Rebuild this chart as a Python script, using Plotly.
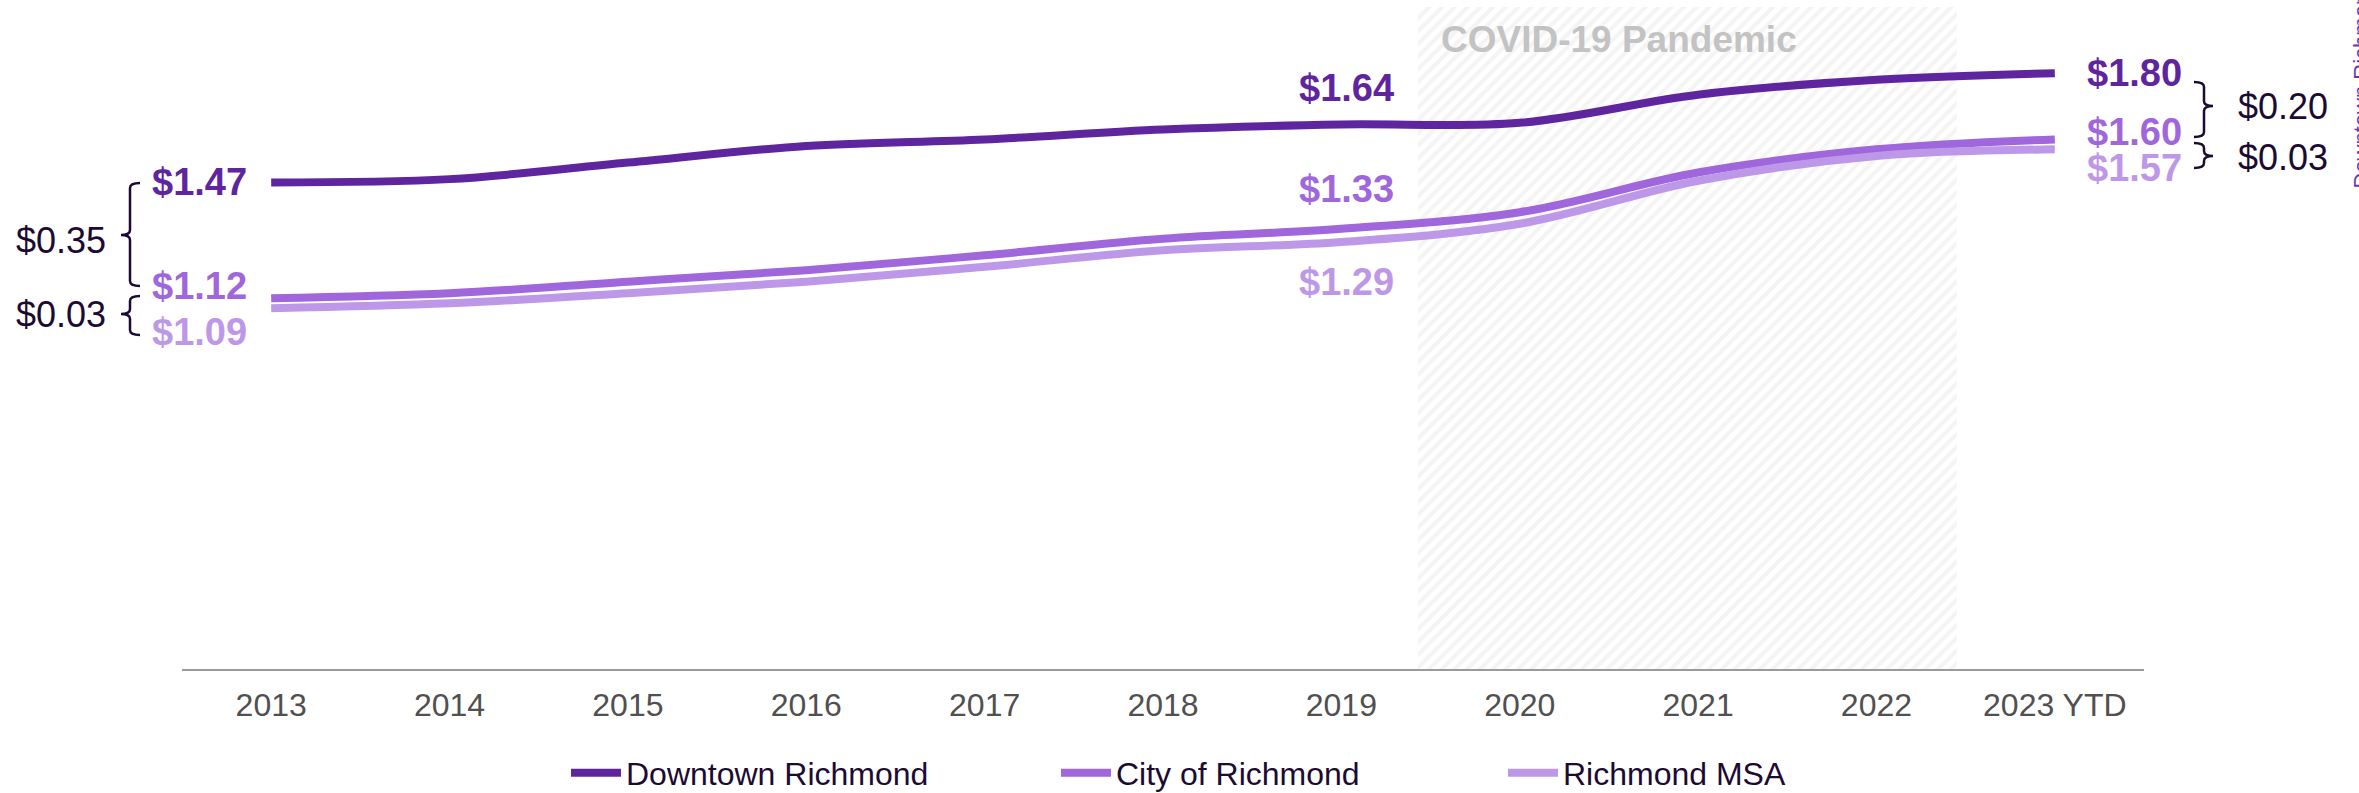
import plotly.graph_objects as go

# ---------------- data ----------------
categories = ["2013", "2014", "2015", "2016", "2017", "2018", "2019", "2020", "2021", "2022", "2023 YTD"]
series_names = ["Downtown Richmond", "City of Richmond", "Richmond MSA"]
downtown = [1.47, 1.48, 1.53, 1.58, 1.60, 1.63, 1.645, 1.65, 1.735, 1.78, 1.80]
city = [1.12, 1.135, 1.17, 1.205, 1.25, 1.30, 1.33, 1.38, 1.50, 1.57, 1.60]
msa = [1.09, 1.105, 1.135, 1.17, 1.215, 1.265, 1.29, 1.345, 1.475, 1.55, 1.57]
# labelled values
start_labels = [1.47, 1.12, 1.09]
mid_labels = [1.64, 1.33, 1.29]
end_labels = [1.80, 1.60, 1.57]
covid_label = "COVID-19 Pandemic"
covid_span = [6.43, 9.45]  # in category units

colors = ["#5F259F", "#A066DC", "#BE98E8"]
dark = "#1B0B33"

W, H = 2359, 793
L, R, T, B = 182, 215, 7, 124
PW, PH = W - L - R, H - T - B
YMAX = 2.0


def px_x(px):
    return (px - L) / PW


def px_y(py):
    return (H - B - py) / PH


x = list(range(len(categories)))
fig = go.Figure()

# COVID hatched band
fig.add_trace(go.Scatter(
    x=[covid_span[0], covid_span[1], covid_span[1], covid_span[0], covid_span[0]],
    y=[0, 0, YMAX, YMAX, 0],
    mode="lines", fill="toself", line=dict(width=0, color="rgba(0,0,0,0)"),
    fillcolor="rgba(0,0,0,0)",
    fillpattern=dict(shape="/", bgcolor="white", fgcolor="#e9e9e9", size=9, solidity=0.45),
    hoverinfo="skip", showlegend=False,
))

legend_widths = [425, 382, 300]
for name, vals, col, lw in zip(series_names, [downtown, city, msa], colors, legend_widths):
    fig.add_trace(go.Scatter(
        x=x, y=vals, name=name, mode="lines",
        line=dict(color=col, width=8, shape="spline", smoothing=1.0),
        legendwidth=lw,
    ))

ann = []
lab_font = dict(family="Liberation Sans, Arial, sans-serif", size=38)
series_vals = [downtown, city, msa]
start_shift = [0, 12, -24]
mid_shift = [37, 40, -40]
end_shift = [0, 7, -19]
for i in range(3):
    f = dict(lab_font, color=colors[i])
    ann.append(dict(x=0, y=series_vals[i][0], xref="x", yref="y", text=f"<b>${start_labels[i]:.2f}</b>",
                    showarrow=False, xanchor="right", yanchor="middle", xshift=-22, yshift=start_shift[i], font=f))
    ann.append(dict(x=6, y=series_vals[i][6], xref="x", yref="y", text=f"<b>${mid_labels[i]:.2f}</b>",
                    showarrow=False, xanchor="center", yanchor="middle", xshift=5, yshift=mid_shift[i], font=f))
    ann.append(dict(x=10, y=series_vals[i][10], xref="x", yref="y", text=f"<b>${end_labels[i]:.2f}</b>",
                    showarrow=False, xanchor="left", yanchor="middle", xshift=30, yshift=end_shift[i], font=f))

diff_font = dict(family="Liberation Sans, Arial, sans-serif", size=36, color=dark)
left_diffs = [start_labels[0] - start_labels[1], start_labels[1] - start_labels[2]]
right_diffs = [end_labels[0] - end_labels[1], end_labels[1] - end_labels[2]]
for d, cy in zip(left_diffs, [240, 314]):
    ann.append(dict(x=px_x(108), y=px_y(cy), xref="paper", yref="paper", text=f"${d:.2f}",
                    showarrow=False, xanchor="right", yanchor="middle", font=diff_font))
for d, cy in zip(right_diffs, [107, 157]):
    ann.append(dict(x=px_x(2236), y=px_y(cy), xref="paper", yref="paper", text=f"${d:.2f}",
                    showarrow=False, xanchor="left", yanchor="middle", font=diff_font))

ann.append(dict(x=px_x(1439), y=px_y(39), xref="paper", yref="paper", text=f"<b>{covid_label}</b>",
                showarrow=False, xanchor="left", yanchor="middle",
                font=dict(family="Liberation Sans, Arial, sans-serif", size=37, color="#C3C3C3")))

ann.append(dict(x=px_x(2346), y=px_y(191), xref="paper", yref="paper", text="Downtown Richmond",
                showarrow=False, xanchor="left", yanchor="bottom", textangle=-90,
                font=dict(family="Liberation Sans, Arial, sans-serif", size=22, color="#6A35AE")))


def bracket(xv, y0, y1, ym, dirx):
    e = xv + dirx * 10
    m = xv - dirx * 9
    r = 5
    pts = (f"M{px_x(e)},{px_y(y0)} Q{px_x(xv)},{px_y(y0)} {px_x(xv)},{px_y(y0 + r)} "
           f"L{px_x(xv)},{px_y(ym - r)} Q{px_x(xv)},{px_y(ym)} {px_x(m)},{px_y(ym)} "
           f"Q{px_x(xv)},{px_y(ym)} {px_x(xv)},{px_y(ym + r)} "
           f"L{px_x(xv)},{px_y(y1 - r)} Q{px_x(xv)},{px_y(y1)} {px_x(e)},{px_y(y1)}")
    return dict(type="path", xref="paper", yref="paper", path=pts,
                line=dict(color=dark, width=2.5))


shapes = [
    bracket(130, 183, 286, 235, 1),
    bracket(130, 296, 335, 314, 1),
    bracket(2204, 82, 137, 106, -1),
    bracket(2204, 143, 168, 156, -1),
]

fig.update_layout(
    width=W, height=H,
    margin=dict(l=L, r=R, t=T, b=B, autoexpand=False),
    paper_bgcolor="white", plot_bgcolor="white",
    font=dict(family="Liberation Sans, Arial, sans-serif", color=dark),
    xaxis=dict(range=[-0.5, 10.5], tickmode="array", tickvals=x, ticktext=categories,
               showgrid=False, zeroline=False, showline=True, linecolor="#9A9A9A", linewidth=2,
               ticks="outside", ticklen=7, tickcolor="rgba(0,0,0,0)",
               tickfont=dict(size=32, color="#505050")),
    yaxis=dict(range=[0, YMAX], visible=False, showgrid=False, zeroline=False),
    showlegend=True,
    legend=dict(orientation="h", x=px_x(566), xanchor="left", y=px_y(773), yanchor="middle",
                itemwidth=50,
                font=dict(size=32, color=dark), bgcolor="rgba(0,0,0,0)"),
    annotations=ann,
    shapes=shapes,
)

fig.write_html("out.html", config={"displayModeBar": False},
               post_script="document.body.style.margin='0';document.body.style.overflow='hidden';"
                           "document.documentElement.style.overflow='hidden';")
